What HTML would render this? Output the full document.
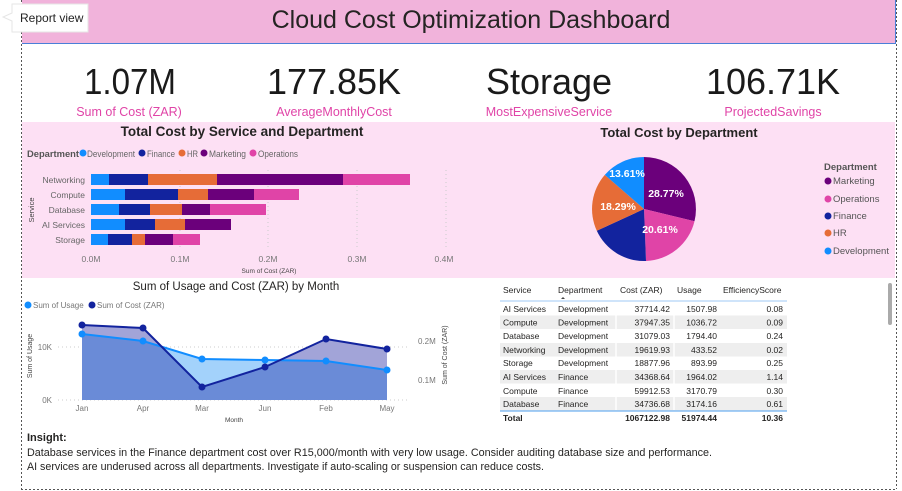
<!DOCTYPE html>
<html><head><meta charset="utf-8"><style>
html,body{margin:0;padding:0;background:#fff;}
svg{display:block;font-family:"Liberation Sans",sans-serif;}
</style></head><body>
<svg width="902" height="491" viewBox="0 0 902 491" xmlns="http://www.w3.org/2000/svg">
<rect width="902" height="491" fill="#fff"/>
<line x1="21.5" y1="0" x2="21.5" y2="489" stroke="#555" stroke-dasharray="2,2"/>
<line x1="896.5" y1="0" x2="896.5" y2="489" stroke="#555" stroke-dasharray="2,2"/>
<line x1="21" y1="489.5" x2="897" y2="489.5" stroke="#555" stroke-dasharray="2,2"/>
<rect x="22" y="0" width="873" height="43" fill="#f1b3db"/>
<line x1="22" y1="43.5" x2="895" y2="43.5" stroke="#4a7fd8"/>
<line x1="895.5" y1="0" x2="895.5" y2="44" stroke="#4a7fd8"/>
<text x="471" y="28" font-size="25" fill="#252423" text-anchor="middle">Cloud Cost Optimization Dashboard</text>
<path d="M12 4 H88 V32 H12 V21 L3 17 L12 13 Z" fill="#fff" stroke="#e6e6e6"/>
<text x="20" y="22" font-size="12" fill="#222">Report view</text>
<g font-size="36" fill="#1a1a1a" text-anchor="middle">
<text x="130" y="94" textLength="92" lengthAdjust="spacingAndGlyphs">1.07M</text>
<text x="334" y="94">177.85K</text>
<text x="549" y="94">Storage</text>
<text x="773" y="94">106.71K</text>
</g>
<g font-size="12.5" fill="#e044a7" text-anchor="middle">
<text x="129" y="116">Sum of Cost (ZAR)</text>
<text x="334" y="116">AverageMonthlyCost</text>
<text x="549" y="116">MostExpensiveService</text>
<text x="773" y="116">ProjectedSavings</text>
</g>
<rect x="22" y="122" width="873" height="156" fill="#fde0f4"/>
<text x="242" y="136" font-size="13.5" font-weight="bold" fill="#252423" text-anchor="middle">Total Cost by Service and Department</text>
<g font-size="9.5" fill="#666">
<text x="27" y="157" font-weight="bold" fill="#555" textLength="52" lengthAdjust="spacingAndGlyphs">Department</text>
<circle cx="83" cy="153" r="3.5" fill="#118dff"/><text x="87" y="157" textLength="48" lengthAdjust="spacingAndGlyphs">Development</text>
<circle cx="142" cy="153" r="3.5" fill="#12239e"/><text x="147" y="157" textLength="28" lengthAdjust="spacingAndGlyphs">Finance</text>
<circle cx="182" cy="153" r="3.5" fill="#e66c37"/><text x="187" y="157" textLength="11" lengthAdjust="spacingAndGlyphs">HR</text>
<circle cx="204" cy="153" r="3.5" fill="#6b007b"/><text x="209" y="157" textLength="37" lengthAdjust="spacingAndGlyphs">Marketing</text>
<circle cx="253" cy="153" r="3.5" fill="#e044a7"/><text x="258" y="157" textLength="40" lengthAdjust="spacingAndGlyphs">Operations</text>
</g>
<g stroke="#ccc" stroke-dasharray="1,3">
<line x1="180" y1="170" x2="180" y2="248"/><line x1="268" y1="170" x2="268" y2="248"/><line x1="357" y1="170" x2="357" y2="248"/><line x1="446" y1="170" x2="446" y2="248"/>
</g>
<g font-size="8.5" fill="#666" text-anchor="end">
<text x="85" y="183">Networking</text><text x="85" y="198">Compute</text><text x="85" y="213">Database</text><text x="85" y="228">AI Services</text><text x="85" y="243">Storage</text>
</g>
<text transform="translate(34,210) rotate(-90)" font-size="7.5" fill="#444" text-anchor="middle">Service</text>
<g>
<rect x="91" y="174" width="18" height="11" fill="#118dff"/><rect x="109" y="174" width="39" height="11" fill="#12239e"/><rect x="148" y="174" width="69" height="11" fill="#e66c37"/><rect x="217" y="174" width="126" height="11" fill="#6b007b"/><rect x="343" y="174" width="67" height="11" fill="#e044a7"/>
<rect x="91" y="189" width="34" height="11" fill="#118dff"/><rect x="125" y="189" width="53" height="11" fill="#12239e"/><rect x="178" y="189" width="30" height="11" fill="#e66c37"/><rect x="208" y="189" width="46" height="11" fill="#6b007b"/><rect x="254" y="189" width="45" height="11" fill="#e044a7"/>
<rect x="91" y="204" width="28" height="11" fill="#118dff"/><rect x="119" y="204" width="31" height="11" fill="#12239e"/><rect x="150" y="204" width="32" height="11" fill="#e66c37"/><rect x="182" y="204" width="28" height="11" fill="#6b007b"/><rect x="210" y="204" width="56" height="11" fill="#e044a7"/>
<rect x="91" y="219" width="34" height="11" fill="#118dff"/><rect x="125" y="219" width="30" height="11" fill="#12239e"/><rect x="155" y="219" width="30" height="11" fill="#e66c37"/><rect x="185" y="219" width="46" height="11" fill="#6b007b"/>
<rect x="91" y="234" width="17" height="11" fill="#118dff"/><rect x="108" y="234" width="24" height="11" fill="#12239e"/><rect x="132" y="234" width="13" height="11" fill="#e66c37"/><rect x="145" y="234" width="28" height="11" fill="#6b007b"/><rect x="173" y="234" width="27" height="11" fill="#e044a7"/>
</g>
<g font-size="8.5" fill="#777" text-anchor="middle">
<text x="91" y="262">0.0M</text><text x="180" y="262">0.1M</text><text x="268" y="262">0.2M</text><text x="357" y="262">0.3M</text><text x="444" y="262">0.4M</text>
</g>
<text x="269" y="273" font-size="6.5" fill="#444" text-anchor="middle">Sum of Cost (ZAR)</text>
<text x="679" y="137" font-size="13" font-weight="bold" fill="#252423" text-anchor="middle">Total Cost by Department</text>
<path d="M644 209 L644 157 A52 52 0 0 1 694.5 221.2 Z" fill="#6b007b"/>
<path d="M644 209 L694.5 221.2 A52 52 0 0 1 646 261 Z" fill="#e044a7"/>
<path d="M644 209 L646 261 A52 52 0 0 1 596.8 230.8 Z" fill="#12239e"/>
<path d="M644 209 L596.8 230.8 A52 52 0 0 1 604.8 174.9 Z" fill="#e66c37"/>
<path d="M644 209 L604.8 174.9 A52 52 0 0 1 644 157 Z" fill="#118dff"/>
<g font-size="10.5" font-weight="bold" fill="#fff" text-anchor="middle">
<text x="666" y="197">28.77%</text><text x="660" y="233">20.61%</text><text x="618" y="210">18.29%</text><text x="627" y="177">13.61%</text>
</g>
<g font-size="9.5" fill="#555">
<text x="824" y="170" font-weight="bold">Department</text>
<circle cx="828" cy="181" r="3.5" fill="#6b007b"/><text x="833" y="184">Marketing</text>
<circle cx="828" cy="199" r="3.5" fill="#e044a7"/><text x="833" y="202">Operations</text>
<circle cx="828" cy="216" r="3.5" fill="#12239e"/><text x="833" y="219">Finance</text>
<circle cx="828" cy="233" r="3.5" fill="#e66c37"/><text x="833" y="236">HR</text>
<circle cx="828" cy="251" r="3.5" fill="#118dff"/><text x="833" y="254">Development</text>
</g>
<text x="236" y="290" font-size="11.5" fill="#252423" text-anchor="middle">Sum of Usage and Cost (ZAR) by Month</text>
<g font-size="8" fill="#777">
<circle cx="28" cy="305" r="3.5" fill="#118dff"/><text x="33" y="308">Sum of Usage</text>
<circle cx="92" cy="305" r="3.5" fill="#12239e"/><text x="97" y="308">Sum of Cost (ZAR)</text>
</g>
<g stroke="#ccc" stroke-dasharray="1,3">
<line x1="58" y1="347" x2="410" y2="347"/><line x1="58" y1="400" x2="410" y2="400"/>
</g>
<polygon points="82,325 143,328 202,387 265,367 326,339 387,349 387,400 82,400" fill="#a2a4d8"/>
<polygon points="82,334 143,341 202,359 265,360 326,361 387,370 387,400 82,400" fill="#a3d2fb"/>
<polygon points="82,334 143,341 161.7,346.7 202,387 265,367 279.7,360.2 326,361 387,370 387,400 82,400" fill="#6a8bd7"/>
<polyline points="82,334 143,341 202,359 265,360 326,361 387,370" fill="none" stroke="#118dff" stroke-width="2"/>
<polyline points="82,325 143,328 202,387 265,367 326,339 387,349" fill="none" stroke="#12239e" stroke-width="2"/>
<g fill="#118dff"><circle cx="82" cy="334" r="3.5"/><circle cx="143" cy="341" r="3.5"/><circle cx="202" cy="359" r="3.5"/><circle cx="265" cy="360" r="3.5"/><circle cx="326" cy="361" r="3.5"/><circle cx="387" cy="370" r="3.5"/></g>
<g fill="#12239e"><circle cx="82" cy="325" r="3.5"/><circle cx="143" cy="328" r="3.5"/><circle cx="202" cy="387" r="3.5"/><circle cx="265" cy="367" r="3.5"/><circle cx="326" cy="339" r="3.5"/><circle cx="387" cy="349" r="3.5"/></g>
<g font-size="8" fill="#777">
<text x="52" y="350" text-anchor="end">10K</text><text x="52" y="403" text-anchor="end">0K</text>
<text x="418" y="344">0.2M</text><text x="418" y="383">0.1M</text>
</g>
<g font-size="8" fill="#777" text-anchor="middle">
<text x="82" y="411">Jan</text><text x="143" y="411">Apr</text><text x="202" y="411">Mar</text><text x="265" y="411">Jun</text><text x="326" y="411">Feb</text><text x="387" y="411">May</text>
</g>
<text x="234" y="422" font-size="6.5" fill="#444" text-anchor="middle">Month</text>
<text transform="translate(32,356) rotate(-90)" font-size="7" fill="#444" text-anchor="middle">Sum of Usage</text>
<text transform="translate(447,355) rotate(-90)" font-size="7" fill="#444" text-anchor="middle">Sum of Cost (ZAR)</text>
<g font-size="8.5" fill="#252423">
<text x="503" y="293">Service</text><text x="558" y="293">Department</text><text x="620" y="293">Cost (ZAR)</text><text x="677" y="293">Usage</text><text x="723" y="293">EfficiencyScore</text>
</g>
<path d="M561 299 l2 -2 l2 2 z" fill="#444"/>
<line x1="500" y1="301" x2="787" y2="301" stroke="#9fc8f5" stroke-width="1"/>
<g fill="#eeeeee">
<rect x="500" y="315.5" width="287" height="13.5"/><rect x="500" y="343" width="287" height="13.5"/><rect x="500" y="370" width="287" height="13.5"/><rect x="500" y="397" width="287" height="13.5"/>
</g>
<g stroke="#fff" stroke-width="1.5"><line x1="616" y1="302" x2="616" y2="410"/><line x1="674" y1="302" x2="674" y2="410"/></g>
<g font-size="8.5" fill="#252423">
<text x="503" y="312">AI Services</text><text x="558" y="312">Development</text><text x="670" y="312" text-anchor="end">37714.42</text><text x="717" y="312" text-anchor="end">1507.98</text><text x="783" y="312" text-anchor="end">0.08</text>
<text x="503" y="325.5">Compute</text><text x="558" y="325.5">Development</text><text x="670" y="325.5" text-anchor="end">37947.35</text><text x="717" y="325.5" text-anchor="end">1036.72</text><text x="783" y="325.5" text-anchor="end">0.09</text>
<text x="503" y="339">Database</text><text x="558" y="339">Development</text><text x="670" y="339" text-anchor="end">31079.03</text><text x="717" y="339" text-anchor="end">1794.40</text><text x="783" y="339" text-anchor="end">0.24</text>
<text x="503" y="353">Networking</text><text x="558" y="353">Development</text><text x="670" y="353" text-anchor="end">19619.93</text><text x="717" y="353" text-anchor="end">433.52</text><text x="783" y="353" text-anchor="end">0.02</text>
<text x="503" y="366">Storage</text><text x="558" y="366">Development</text><text x="670" y="366" text-anchor="end">18877.96</text><text x="717" y="366" text-anchor="end">893.99</text><text x="783" y="366" text-anchor="end">0.25</text>
<text x="503" y="380">AI Services</text><text x="558" y="380">Finance</text><text x="670" y="380" text-anchor="end">34368.64</text><text x="717" y="380" text-anchor="end">1964.02</text><text x="783" y="380" text-anchor="end">1.14</text>
<text x="503" y="394">Compute</text><text x="558" y="394">Finance</text><text x="670" y="394" text-anchor="end">59912.53</text><text x="717" y="394" text-anchor="end">3170.79</text><text x="783" y="394" text-anchor="end">0.30</text>
<text x="503" y="407">Database</text><text x="558" y="407">Finance</text><text x="670" y="407" text-anchor="end">34736.68</text><text x="717" y="407" text-anchor="end">3174.16</text><text x="783" y="407" text-anchor="end">0.61</text>
</g>
<line x1="500" y1="411" x2="787" y2="411" stroke="#6fb0f0" stroke-width="1.2"/>
<g font-size="8.5" font-weight="bold" fill="#252423">
<text x="503" y="421">Total</text><text x="670" y="421" text-anchor="end">1067122.98</text><text x="717" y="421" text-anchor="end">51974.44</text><text x="783" y="421" text-anchor="end">10.36</text>
</g>
<rect x="888" y="283" width="4" height="42" rx="2" fill="#aaa"/>
<text x="27" y="441" font-size="11" font-weight="bold" fill="#252423">Insight:</text>
<text x="27" y="456" font-size="11" fill="#252423" textLength="685" lengthAdjust="spacingAndGlyphs">Database services in the Finance department cost over R15,000/month with very low usage. Consider auditing database size and performance.</text>
<text x="27" y="470" font-size="11" fill="#252423" textLength="517" lengthAdjust="spacingAndGlyphs">AI services are underused across all departments. Investigate if auto-scaling or suspension can reduce costs.</text>
</svg>
</body></html>
